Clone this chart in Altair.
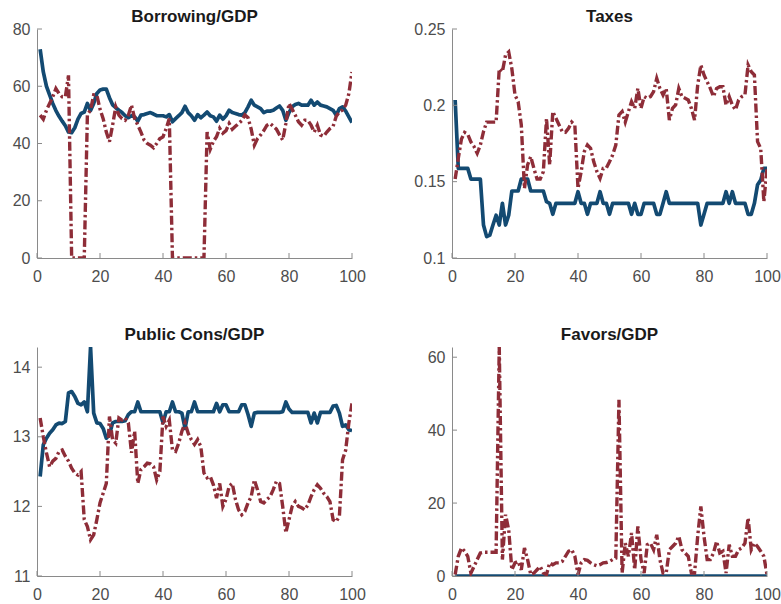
import altair as alt
import pandas as pd

# period index shared by every panel
t = list(range(1, 101))

borrow_blue = [72.9, 65, 60, 57, 54, 51.5, 49.5, 47.8, 46.2, 44,
               43.8, 45.5, 48.5, 50.5, 51, 54, 51.5, 54, 57.5, 58.7,
               59, 59, 56, 53.5, 52.5, 51.6, 50.8, 49.7, 49, 49.7,
               49.3, 47.8, 49.9, 50.1, 50.5, 50.8, 50.3, 49.7, 49.7, 49.7,
               49.3, 50.1, 47.6, 48.7, 49.7, 50.8, 53, 50.8, 49.7, 48.1,
               50.1, 49, 49.9, 51, 49.7, 49.3, 47.8, 49.9, 48.5, 49.7,
               51.6, 50.8, 50.5, 50.1, 49.9, 50.8, 52.8, 55.1, 53.4, 52.8,
               52.2, 50.8, 51.3, 51.3, 51.6, 52.4, 53.1, 51.6, 48.1, 50.8,
               52.8, 53.6, 54, 53.4, 53.4, 53.4, 55.1, 53.4, 54.5, 53.4,
               53.1, 52.8, 52.2, 51.6, 49.9, 52.2, 52.8, 51.3, 49.3, 47.3]
borrow_red = [49.9, 48.5, 51.6, 54, 56.3, 59.2, 57.4, 56.3, 56.3, 63.8,
              0, 0, 0, 0, 0, 50.1, 51.7, 57, 56.9, 52,
              48.7, 44, 40.6, 46.4, 52.8, 49.9, 48.7, 48.1, 49.9, 53.4,
              48.7, 46.4, 44, 41.2, 40, 39.4, 38.5, 40, 41.7, 42.3,
              45.2, 48.7, 0, 0, 0, 0, 0, 0, 0, 0,
              0, 0, 0, 44, 38, 40.7, 42.4, 45.3, 43.6, 44.5,
              47, 45, 46, 47, 48, 50, 49, 45, 39.4, 41.7,
              43, 44.5, 46.4, 47, 46, 45, 43, 41.2, 47, 54,
              52, 49.9, 47.6, 46.4, 48.1, 48.1, 46.4, 44, 46.4, 43,
              42.5, 44, 45.2, 46, 49.5, 51, 51.7, 53.4, 57.4, 65]

tax_blue = [0.2035, 0.1587, 0.1587, 0.1587, 0.1587, 0.1517, 0.1517, 0.1517, 0.1517, 0.1216,
            0.114, 0.115, 0.1216, 0.128, 0.1216, 0.1358, 0.1216, 0.128, 0.1439, 0.1439,
            0.1439, 0.1517, 0.1517, 0.1517, 0.1439, 0.1439, 0.1439, 0.1439, 0.1439, 0.1369,
            0.1358, 0.1286, 0.1358, 0.1358, 0.1358, 0.1358, 0.1358, 0.1358, 0.1358, 0.1434,
            0.1358, 0.1358, 0.1286, 0.1358, 0.1358, 0.1358, 0.1434, 0.1358, 0.1358, 0.1286,
            0.1358, 0.1358, 0.1358, 0.1358, 0.1358, 0.1358, 0.1286, 0.1358, 0.1286, 0.1286,
            0.1358, 0.1358, 0.1358, 0.1358, 0.1286, 0.1286, 0.1358, 0.1434, 0.1358, 0.1358,
            0.1358, 0.1358, 0.1358, 0.1358, 0.1358, 0.1358, 0.1358, 0.1358, 0.1216, 0.1286,
            0.1358, 0.1358, 0.1358, 0.1358, 0.1358, 0.1358, 0.1434, 0.1358, 0.1434, 0.1358,
            0.1358, 0.1358, 0.1358, 0.1286, 0.1286, 0.1358, 0.148, 0.151, 0.1587, 0.1587]
tax_red = [0.1517, 0.1653, 0.178, 0.1823, 0.181, 0.176, 0.173, 0.1686, 0.174, 0.1828,
           0.189, 0.189, 0.189, 0.189, 0.224, 0.222, 0.233, 0.235, 0.224, 0.2068,
           0.2024, 0.1871, 0.1456, 0.161, 0.1664, 0.1587, 0.1517, 0.1517, 0.1566, 0.1915,
           0.161, 0.1959, 0.1915, 0.1871, 0.1828, 0.1823, 0.185, 0.189, 0.1871, 0.1456,
           0.1566, 0.1697, 0.174, 0.1718, 0.163, 0.1566, 0.1522, 0.1587, 0.159, 0.163,
           0.1675, 0.174, 0.1937, 0.1959, 0.189, 0.1959, 0.2024, 0.198, 0.2111, 0.198,
           0.2057, 0.2046, 0.2057, 0.209, 0.2177, 0.2111, 0.2068, 0.2111, 0.1904, 0.198,
           0.2002, 0.2111, 0.2057, 0.2046, 0.2035, 0.198, 0.1904, 0.2133, 0.2264, 0.2199,
           0.2155, 0.2111, 0.2057, 0.2111, 0.2122, 0.2122, 0.2002, 0.2057, 0.2002, 0.197,
           0.2035, 0.2057, 0.2068, 0.2264, 0.222, 0.2199, 0.1762, 0.1718, 0.1369, 0.1587]

cons_blue = [12.43, 12.885, 12.98, 13.05, 13.1, 13.17, 13.196, 13.19, 13.22, 13.63,
             13.65, 13.58, 13.48, 13.46, 13.5, 13.36, 14.29, 13.34, 13.2, 13.19,
             13.12, 12.98, 13.03, 13.2, 13.22, 13.22, 13.22, 13.23, 13.32, 13.36,
             13.36, 13.5, 13.36, 13.36, 13.36, 13.36, 13.36, 13.36, 13.36, 13.2,
             13.36, 13.36, 13.5, 13.36, 13.36, 13.34, 13.12, 13.36, 13.36, 13.5,
             13.36, 13.36, 13.36, 13.36, 13.36, 13.36, 13.48, 13.36, 13.46, 13.46,
             13.36, 13.36, 13.36, 13.36, 13.46, 13.46, 13.32, 13.15, 13.34, 13.35,
             13.35, 13.35, 13.35, 13.35, 13.35, 13.35, 13.35, 13.36, 13.5, 13.4,
             13.35, 13.35, 13.35, 13.35, 13.35, 13.35, 13.2, 13.34, 13.2, 13.35,
             13.35, 13.35, 13.35, 13.44, 13.45, 13.34, 13.15, 13.17, 13.1, 13.09]
cons_red = [13.27, 13.0, 12.77, 12.57, 12.65, 12.69, 12.79, 12.81, 12.72, 12.65,
            12.55, 12.48, 12.45, 12.5, 11.81, 11.71, 11.52, 11.59, 11.81, 12.05,
            12.19, 12.33, 13.29, 12.96, 12.91, 13.27, 13.24, 13.27, 13.2, 12.77,
            13.08, 12.33, 12.53, 12.57, 12.62, 12.61, 12.57, 12.38, 12.5, 13.29,
            13.15, 13.24, 12.81, 12.79, 12.91, 13.08, 13.2, 13.05, 12.96, 12.89,
            12.96, 12.86, 12.48, 12.41, 12.43, 12.31, 12.12, 12.33, 12.0, 12.1,
            12.29, 12.33, 12.1, 11.95, 11.88, 11.93, 12.05, 12.14, 12.38, 12.24,
            12.07, 12.05, 12.1, 12.14, 12.24, 12.36, 12.33, 12.0, 11.62, 11.81,
            12.0, 12.07, 12.0, 11.98, 11.95, 12.02, 12.14, 12.24, 12.31, 12.26,
            12.19, 12.14, 12.07, 11.81, 11.78, 11.86, 12.67, 12.81, 13.2, 13.48]

favor_blue = [0] * 100
favor_red = [0.4, 5.4, 7.7, 6.8, 5.4, 0.8, 2.6, 4.5, 6.3, 6.5,
             6.5, 6.5, 6.5, 6.5, 62.8, 4.5, 16.8, 12.7, 1.7, 3.6,
             4, 1.7, 7.7, 4.5, 0.4, 0.8, 1.7, 2.6, 0.8, 0.4,
             3.6, 3.1, 3.6, 3.6, 4, 5.4, 6.8, 7.2, 5.4, 0.4,
             3.6, 4.5, 4.3, 3.6, 3.1, 2.8, 3.1, 3.6, 3.7, 4,
             4.5, 4.9, 48.3, 0.8, 9, 5.4, 11.8, 1.7, 13.6, 4.5,
             0.8, 8.6, 9, 7.2, 11.3, 4.5, 0.8, 0.8, 7.2, 8.1,
             9, 10.9, 7.2, 6.3, 5.4, 0.8, 0.8, 10.9, 19.1, 10.9,
             4.5, 4.5, 6.3, 9.5, 6.3, 6.8, 0.8, 8.6, 5.4, 5.4,
             7.2, 7.7, 9, 15.9, 7.2, 9, 8.1, 6.8, 5.4, 0.4]

x_ticks = [0, 20, 40, 60, 80, 100]

BLUE = "#134a72"
RED = "#8e2d38"
AXIS = "#8a8a8a"
FONT = "Liberation Sans"
W, H = 315, 229


def panel(title, blue, red, ydom, yticks, yfmt, title_offset):
    df = pd.DataFrame({"t": t, "blue": blue, "red": red})
    xs = alt.Scale(domain=[0, 100], nice=False, zero=False)
    ys = alt.Scale(domain=ydom, nice=False, zero=False)
    xaxis = alt.Axis(values=x_ticks, format="d", title=None)
    yaxis = alt.Axis(values=yticks, format=yfmt, title=None)

    blue_line = alt.Chart(df).mark_line(
        color=BLUE, strokeWidth=3.7, clip=True, strokeJoin="round"
    ).encode(x=alt.X("t:Q", scale=xs, axis=xaxis),
             y=alt.Y("blue:Q", scale=ys, axis=yaxis))

    red_line = alt.Chart(df).mark_line(
        color=RED, strokeWidth=3.4, strokeDash=[9, 3, 2.5, 3], clip=True
    ).encode(x=alt.X("t:Q", scale=xs, axis=xaxis),
             y=alt.Y("red:Q", scale=ys, axis=yaxis))

    # inward tick marks on both axes
    xt = alt.Chart(pd.DataFrame({"v": x_ticks})).mark_rule(
        color=AXIS, strokeWidth=1
    ).encode(x=alt.X("v:Q", scale=xs, axis=xaxis),
             y=alt.value(H), y2=alt.value(H - 5))
    yt = alt.Chart(pd.DataFrame({"v": yticks})).mark_rule(
        color=AXIS, strokeWidth=1
    ).encode(y=alt.Y("v:Q", scale=ys, axis=yaxis),
             x=alt.value(0), x2=alt.value(5))

    return alt.layer(blue_line, red_line, xt, yt).properties(
        width=W, height=H,
        title=alt.TitleParams(text=title, offset=title_offset),
    )


p1 = panel("Borrowing/GDP", borrow_blue, borrow_red, [0, 80], [0, 20, 40, 60, 80], "d", -5)
p2 = panel("Taxes", tax_blue, tax_red, [0.1, 0.25], [0.1, 0.15, 0.2, 0.25], ".2~f", -5)
p3 = panel("Public Cons/GDP", cons_blue, cons_red, [11, 14.29], [11, 12, 13, 14], "d", 3)
p4 = panel("Favors/GDP", favor_blue, favor_red, [0, 62.8], [0, 20, 40, 60], "d", 3)

chart = alt.concat(
    p1, p2, p3, p4,
    columns=2, spacing={"row": 89, "column": 100}, bounds="flush",
).properties(
    padding={"left": 12, "top": 8, "right": 0, "bottom": 0}
).configure_view(stroke=None).configure_axis(
    domainColor=AXIS, domainWidth=1, tickSize=0, grid=False,
    labelFont=FONT, labelFontSize=16, labelColor="#4d4d4d",
    labelPadding=7, labelFlush=False, labelOverlap=False, labelBound=False,
).configure_axisX(labelPadding=10).configure_title(
    font=FONT, fontSize=17, fontWeight="bold", color="#1a1a1a",
    anchor="middle",
)

chart.save("out.html", embed_options={"renderer": "svg", "actions": False})
